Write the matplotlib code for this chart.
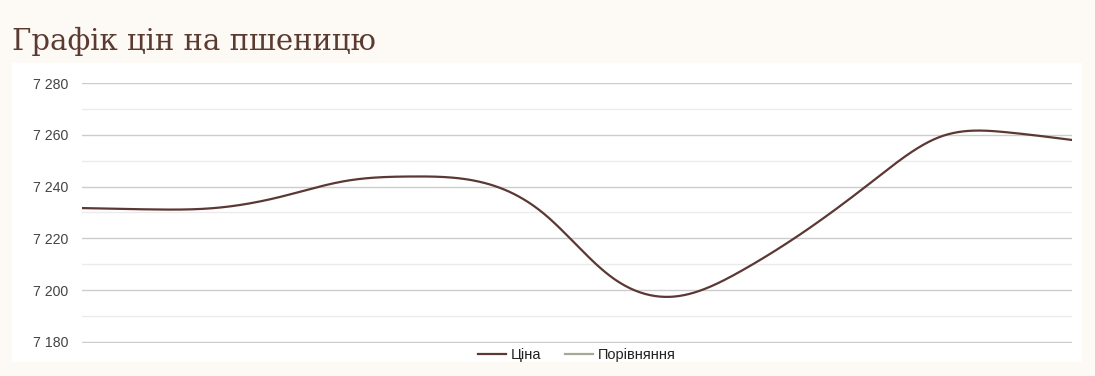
import numpy as np
import matplotlib.pyplot as plt
from matplotlib.ticker import MultipleLocator, FuncFormatter
from matplotlib.patches import Rectangle

# price readings, evenly spaced along the (hidden) x axis
price = [7231.7, 7231.2, 7231.7, 7236.0, 7242.2, 7243.9, 7242.0, 7229.5,
         7205.5, 7197.6, 7207.6, 7223.6, 7242.5, 7259.2, 7261.0, 7258.0]
idx = np.arange(len(price))

title = "Графік цін на пшеницю"
series_names = ["Ціна", "Порівняння"]
colors = ["#5b3833", "#a9a993"]


def natural_spline(x, y, n=40):
    # natural cubic spline through the points
    x = np.asarray(x, float)
    y = np.asarray(y, float)
    k = len(x)
    h = np.diff(x)
    A = np.zeros((k, k))
    b = np.zeros(k)
    A[0, 0] = A[-1, -1] = 1
    for i in range(1, k - 1):
        A[i, i - 1] = h[i - 1]
        A[i, i] = 2 * (h[i - 1] + h[i])
        A[i, i + 1] = h[i]
        b[i] = 6 * ((y[i + 1] - y[i]) / h[i] - (y[i] - y[i - 1]) / h[i - 1])
    M = np.linalg.solve(A, b)
    xs, ys = [], []
    for i in range(k - 1):
        t = np.linspace(x[i], x[i + 1], n, endpoint=False)
        a = x[i + 1] - t
        c = t - x[i]
        s = (M[i] * a ** 3 + M[i + 1] * c ** 3) / (6 * h[i]) \
            + (y[i] / h[i] - M[i] * h[i] / 6) * a \
            + (y[i + 1] / h[i] - M[i + 1] * h[i] / 6) * c
        xs.append(t)
        ys.append(s)
    xs.append([x[-1]])
    ys.append([y[-1]])
    return np.concatenate(xs), np.concatenate(ys)


fig = plt.figure(figsize=(10.95, 3.76), dpi=100)
fig.patch.set_facecolor("#fdfaf6")
fig.patches.append(Rectangle((12 / 1095, 14 / 376), 1070 / 1095, 299 / 376,
                             transform=fig.transFigure, facecolor="white",
                             edgecolor="none", zorder=-5))

fig.text(12 / 1095, 1 - 50 / 376, title, fontsize=21, family="DejaVu Serif",
         color="#5b3a30", va="baseline", ha="left")

# bottom limit a hair below 7180 so the lowest gridline is not clipped
ax = fig.add_axes([82 / 1095, 33 / 376, 990 / 1095, 260 / 376])
ax.set_facecolor("none")
ax.set_zorder(2)

sx, sy = natural_spline(idx, price)
ax.plot(sx, sy, color=colors[0], lw=1.6, label=series_names[0], zorder=3)
ax.plot([], [], color=colors[1], lw=1.6, label=series_names[1])

ax.set_xlim(idx[0], idx[-1])
ax.set_ylim(7179.6, 7280)
ax.yaxis.set_major_locator(MultipleLocator(20))
ax.yaxis.set_minor_locator(MultipleLocator(10))
ax.yaxis.set_major_formatter(FuncFormatter(lambda v, p: f"{int(v):,}".replace(",", " ")))
ax.grid(which="major", axis="y", color="#cccccc", lw=1)
ax.grid(which="minor", axis="y", color="#ebebeb", lw=1)
ax.set_axisbelow(True)
ax.set_xticks([])
ax.tick_params(axis="y", which="both", length=0, pad=10, labelsize=10.2,
               labelcolor="#444444")
for lab in ax.get_yticklabels():
    lab.set_family("Liberation Sans")
for s in ax.spines.values():
    s.set_visible(False)

leg = ax.legend(loc="center", bbox_to_anchor=(0.5, -0.045), ncol=2, frameon=False,
                handlelength=1.9, handletextpad=0.35, columnspacing=1.6,
                prop={"family": "Liberation Sans", "size": 10.5})
for t in leg.get_texts():
    t.set_color("#222222")

fig.savefig("out.png", dpi=100, facecolor=fig.get_facecolor())
